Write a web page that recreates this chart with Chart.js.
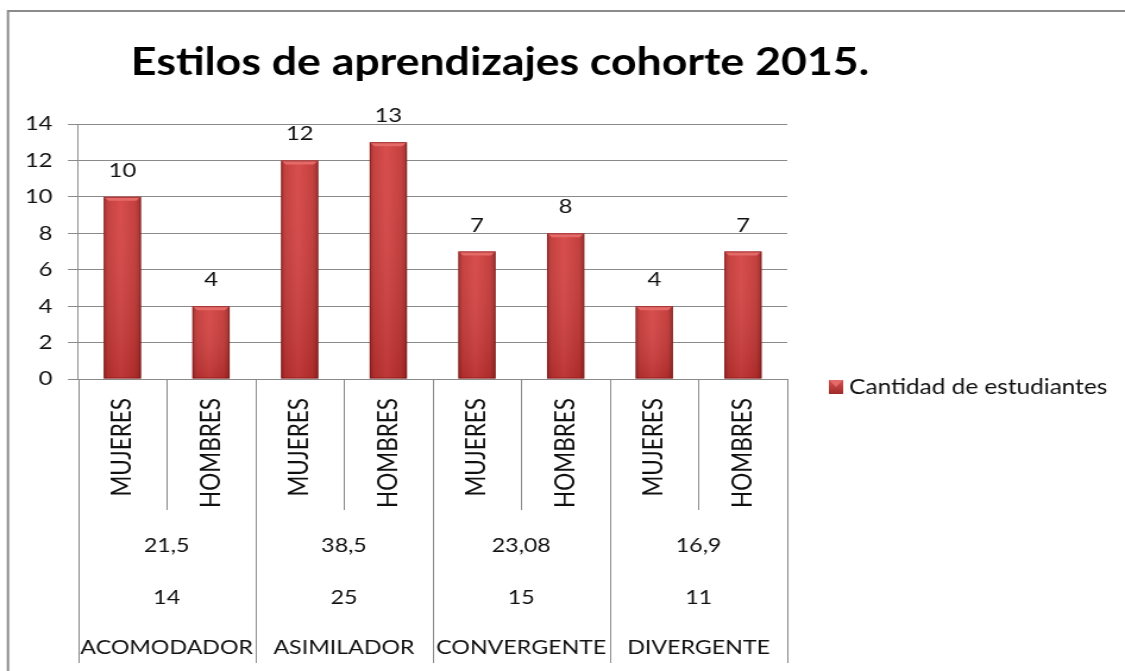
<!DOCTYPE html>
<html>
<head>
<meta charset="utf-8">
<script src="https://cdn.jsdelivr.net/npm/chart.js@4"></script>
<style>
  html, body { margin: 0; padding: 0; background: #fff; }
  #chart { display: block; width: 1125px; height: 671px; }
</style>
</head>
<body>
<canvas id="chart" width="946" height="671" style="width:1125px;height:671px"></canvas>
<script>
// the original picture is stretched horizontally, so the canvas is drawn narrow and scaled by css
const subLabels = ['MUJERES', 'HOMBRES', 'MUJERES', 'HOMBRES', 'MUJERES', 'HOMBRES', 'MUJERES', 'HOMBRES'];
const values = [10, 4, 12, 13, 7, 8, 4, 7];
const groups = ['ACOMODADOR', 'ASIMILADOR', 'CONVERGENTE', 'DIVERGENTE'];
const groupPercent = ['21,5', '38,5', '23,08', '16,9'];
const groupTotals = ['14', '25', '15', '11'];
const seriesName = 'Cantidad de estudiantes';
const titleText = 'Estilos de aprendizajes cohorte 2015.';

const FONT = 'Lato, Carlito, Calibri, sans-serif';
const GRID = '#8a8a8a';
const TXT = '#111';

function barGradient(context) {
  const chart = context.chart;
  const xs = chart.scales.x;
  if (!chart.chartArea || !xs) return '#cc3b3b';
  const cx = xs.getPixelForValue(context.dataIndex);
  const w = xs.width / subLabels.length * 0.42;
  const g = chart.ctx.createLinearGradient(cx - w / 2, 0, cx + w / 2, 0);
  g.addColorStop(0, '#9c2b2a');
  g.addColorStop(0.12, '#c23836');
  g.addColorStop(0.45, '#d54443');
  g.addColorStop(0.85, '#c13634');
  g.addColorStop(1, '#952826');
  return g;
}

const decoPlugin = {
  id: 'deco',
  beforeDraw(chart) {
    const c = chart.ctx;
    c.save();
    c.strokeStyle = '#8c8c8c';
    c.lineWidth = 2;
    c.beginPath();
    c.moveTo(6.7, 671);
    c.lineTo(6.7, 11);
    c.lineTo(946, 11);
    c.stroke();
    c.fillStyle = '#000';
    c.font = 'bold 37.5px ' + FONT;
    c.textAlign = 'center';
    c.textBaseline = 'alphabetic';
    c.fillText(titleText, 420.5, 75);
    c.restore();
  },
  afterDatasetsDraw(chart) {
    const c = chart.ctx;
    const meta = chart.getDatasetMeta(0);
    c.save();
    meta.data.forEach((bar, i) => {
      const left = bar.x - bar.width / 2;
      const right = bar.x + bar.width / 2;
      const top = bar.y;
      const bottom = bar.base;
      // darker towards the base
      const vg = c.createLinearGradient(0, top, 0, bottom);
      vg.addColorStop(0, 'rgba(255,255,255,0.05)');
      vg.addColorStop(1, 'rgba(80,0,0,0.18)');
      c.fillStyle = vg;
      c.fillRect(left, top, bar.width, bottom - top);
      // bevel on top
      const b = 4;
      c.fillStyle = '#e46a68';
      c.beginPath();
      c.moveTo(left, top);
      c.lineTo(right, top);
      c.lineTo(right - b, top + b);
      c.lineTo(left + b, top + b);
      c.closePath();
      c.fill();
      c.strokeStyle = 'rgba(120,20,20,0.6)';
      c.lineWidth = 1;
      c.strokeRect(left + 0.5, top + 0.5, bar.width - 1, bottom - top - 1);
      // value label
      c.fillStyle = TXT;
      c.font = '20px ' + FONT;
      c.textAlign = 'center';
      c.textBaseline = 'alphabetic';
      c.fillText(String(values[i]), bar.x, top - 20);
    });
    c.restore();
  },
  afterDraw(chart) {
    const c = chart.ctx;
    const xs = chart.scales.x;
    const area = chart.chartArea;
    const slot = xs.width / subLabels.length;
    c.save();
    c.strokeStyle = GRID;
    c.lineWidth = 1;
    // separators under the axis
    for (let i = 0; i <= subLabels.length; i++) {
      const x = Math.round(area.left + i * slot) + 0.5;
      const end = i % 2 === 0 ? 663 : 510;
      c.beginPath();
      c.moveTo(x, area.bottom);
      c.lineTo(x, end);
      c.stroke();
    }
    c.fillStyle = TXT;
    c.font = '22.5px ' + FONT;
    // rotated sub labels
    subLabels.forEach((lab, i) => {
      const x = xs.getPixelForValue(i);
      c.save();
      c.translate(x, 398);
      c.rotate(-Math.PI / 2);
      c.textAlign = 'right';
      c.textBaseline = 'middle';
      c.fillText(lab, 0, 0);
      c.restore();
    });
    // group rows
    c.font = '19.5px ' + FONT;
    c.textAlign = 'center';
    c.textBaseline = 'middle';
    groups.forEach((g, j) => {
      const x = (xs.getPixelForValue(2 * j) + xs.getPixelForValue(2 * j + 1)) / 2;
      c.fillText(groupPercent[j], x, 546);
      c.fillText(groupTotals[j], x, 598);
      c.fillText(g, x, 648);
    });
    // legend
    const lx = 697, ly = 387;
    const lg = c.createLinearGradient(lx, ly - 7, lx, ly + 7);
    lg.addColorStop(0, '#d9504e');
    lg.addColorStop(1, '#9e2c2a');
    c.fillStyle = lg;
    c.fillRect(lx, ly - 7, 12, 14);
    c.fillStyle = '#e46a68';
    c.beginPath();
    c.moveTo(lx, ly - 7);
    c.lineTo(lx + 12, ly - 7);
    c.lineTo(lx + 6, ly);
    c.closePath();
    c.fill();
    c.fillStyle = TXT;
    c.font = '20.5px ' + FONT;
    c.textAlign = 'left';
    c.fillText(seriesName, lx + 17, ly);
    c.restore();
  }
};

new Chart(document.getElementById('chart'), {
  type: 'bar',
  data: {
    labels: subLabels,
    datasets: [{
      label: seriesName,
      data: values,
      backgroundColor: barGradient,
      borderWidth: 0,
      barPercentage: 0.42,
      categoryPercentage: 1
    }]
  },
  options: {
    responsive: false,
    devicePixelRatio: 1,
    animation: false,
    layout: { padding: { left: 0, right: 284, top: 124, bottom: 292 } },
    plugins: {
      legend: { display: false },
      title: { display: false },
      tooltip: { enabled: false }
    },
    scales: {
      x: {
        grid: { display: false },
        ticks: { display: false },
        border: { display: true, color: GRID, width: 1 },
        afterFit(scale) { scale.height = 0; }
      },
      y: {
        min: 0,
        max: 14,
        ticks: {
          stepSize: 2,
          padding: 13,
          color: TXT,
          font: { family: FONT, size: 20 }
        },
        grid: { color: GRID, lineWidth: 1, tickLength: 8.5 },
        border: { display: true, color: GRID, width: 1 },
        afterFit(scale) { scale.width = 65.6; }
      }
    }
  },
  plugins: [decoPlugin]
});
</script>
</body>
</html>
